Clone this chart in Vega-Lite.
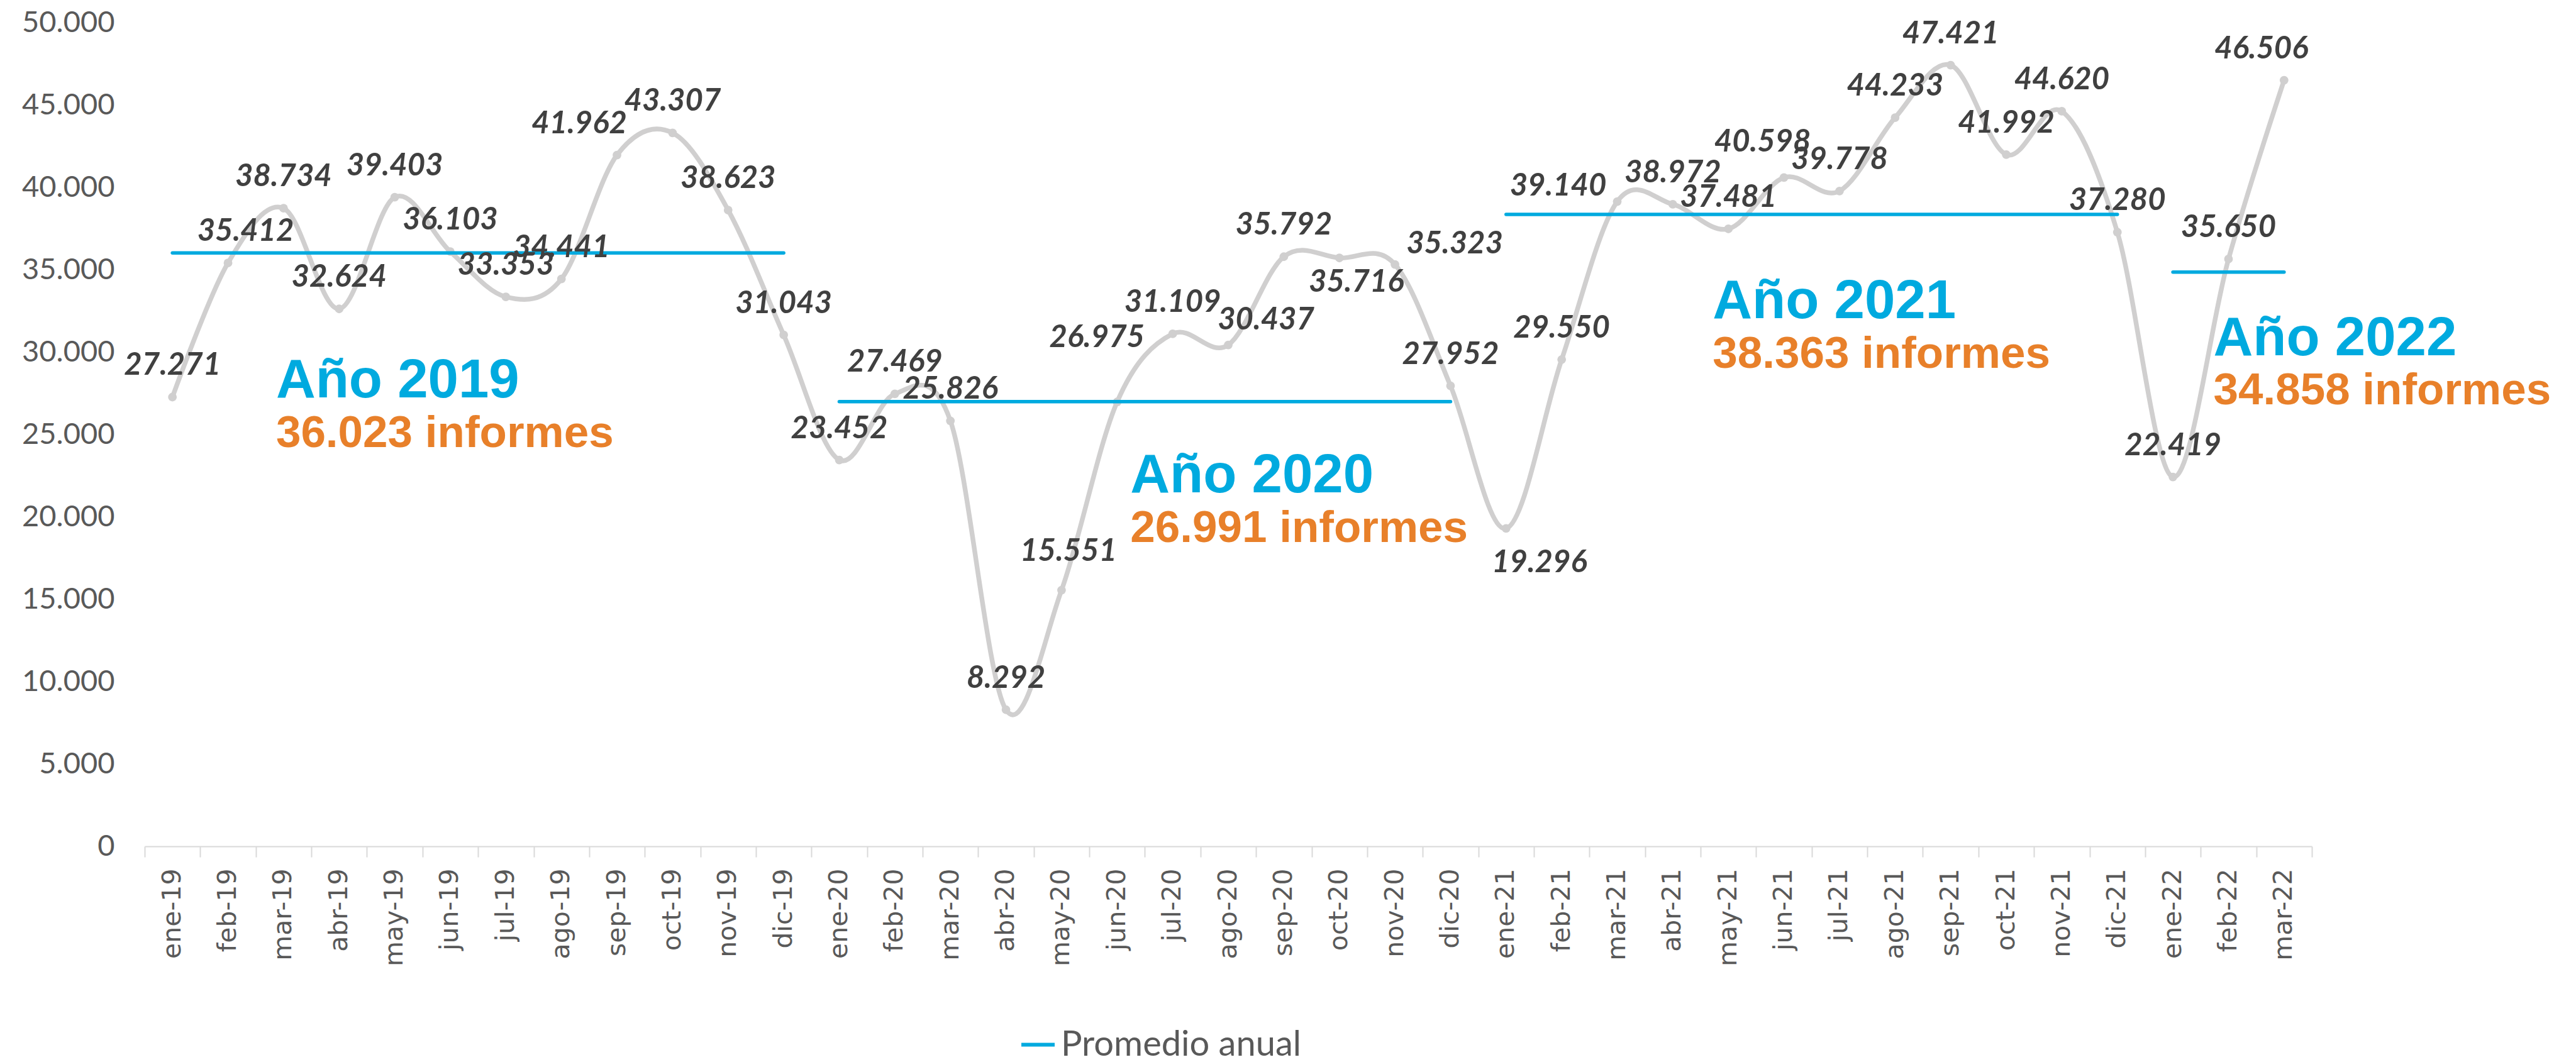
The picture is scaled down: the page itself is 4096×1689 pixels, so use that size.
{
  "$schema": "https://vega.github.io/schema/vega-lite/v6.json",
  "autosize": {"type": "none"},
  "padding": {"left": 230, "top": 36, "right": 420, "bottom": 343},
  "width": 3446,
  "height": 1310,
  "background": "white",
  "config": {
    "view": {"stroke": null},
    "locale": {"number": {"decimal": ",", "thousands": ".", "grouping": [3], "currency": ["", " €"]}}
  },
  "datasets": {
    "monthly": [
      {"m": "ene-19", "v": 27271, "avg": 36023, "yr": "2019"},
      {"m": "feb-19", "v": 35412, "avg": 36023, "yr": "2019"},
      {"m": "mar-19", "v": 38734, "avg": 36023, "yr": "2019"},
      {"m": "abr-19", "v": 32624, "avg": 36023, "yr": "2019"},
      {"m": "may-19", "v": 39403, "avg": 36023, "yr": "2019"},
      {"m": "jun-19", "v": 36103, "avg": 36023, "yr": "2019"},
      {"m": "jul-19", "v": 33353, "avg": 36023, "yr": "2019"},
      {"m": "ago-19", "v": 34441, "avg": 36023, "yr": "2019"},
      {"m": "sep-19", "v": 41962, "avg": 36023, "yr": "2019"},
      {"m": "oct-19", "v": 43307, "avg": 36023, "yr": "2019"},
      {"m": "nov-19", "v": 38623, "avg": 36023, "yr": "2019"},
      {"m": "dic-19", "v": 31043, "avg": 36023, "yr": "2019"},
      {"m": "ene-20", "v": 23452, "avg": 26991, "yr": "2020"},
      {"m": "feb-20", "v": 27469, "avg": 26991, "yr": "2020"},
      {"m": "mar-20", "v": 25826, "avg": 26991, "yr": "2020"},
      {"m": "abr-20", "v": 8292, "avg": 26991, "yr": "2020"},
      {"m": "may-20", "v": 15551, "avg": 26991, "yr": "2020"},
      {"m": "jun-20", "v": 26975, "avg": 26991, "yr": "2020"},
      {"m": "jul-20", "v": 31109, "avg": 26991, "yr": "2020"},
      {"m": "ago-20", "v": 30437, "avg": 26991, "yr": "2020"},
      {"m": "sep-20", "v": 35792, "avg": 26991, "yr": "2020"},
      {"m": "oct-20", "v": 35716, "avg": 26991, "yr": "2020"},
      {"m": "nov-20", "v": 35323, "avg": 26991, "yr": "2020"},
      {"m": "dic-20", "v": 27952, "avg": 26991, "yr": "2020"},
      {"m": "ene-21", "v": 19296, "avg": 38363, "yr": "2021"},
      {"m": "feb-21", "v": 29550, "avg": 38363, "yr": "2021"},
      {"m": "mar-21", "v": 39140, "avg": 38363, "yr": "2021"},
      {"m": "abr-21", "v": 38972, "avg": 38363, "yr": "2021"},
      {"m": "may-21", "v": 37481, "avg": 38363, "yr": "2021"},
      {"m": "jun-21", "v": 40598, "avg": 38363, "yr": "2021"},
      {"m": "jul-21", "v": 39778, "avg": 38363, "yr": "2021"},
      {"m": "ago-21", "v": 44233, "avg": 38363, "yr": "2021"},
      {"m": "sep-21", "v": 47421, "avg": 38363, "yr": "2021"},
      {"m": "oct-21", "v": 41992, "avg": 38363, "yr": "2021"},
      {"m": "nov-21", "v": 44620, "avg": 38363, "yr": "2021"},
      {"m": "dic-21", "v": 37280, "avg": 38363, "yr": "2021"},
      {"m": "ene-22", "v": 22419, "avg": 34858, "yr": "2022"},
      {"m": "feb-22", "v": 35650, "avg": 34858, "yr": "2022"},
      {"m": "mar-22", "v": 46506, "avg": 34858, "yr": "2022"}
    ],
    "notes": [
      {"yr": "2019", "m": "mar-19", "avg": 36023, "title": "Año 2019", "sub": "36.023 informes"},
      {"yr": "2020", "m": "jun-20", "avg": 26991, "title": "Año 2020", "sub": "26.991 informes"},
      {"yr": "2021", "m": "may-21", "avg": 38363, "title": "Año 2021", "sub": "38.363 informes"},
      {"yr": "2022", "m": "feb-22", "avg": 34858, "title": "Año 2022", "sub": "34.858 informes"}
    ]
  },
  "encoding": {
    "x": {
      "field": "m", "type": "ordinal", "title": null,
      "scale": {
        "domain": ["ene-19","feb-19","mar-19","abr-19","may-19","jun-19","jul-19","ago-19","sep-19","oct-19","nov-19","dic-19",
                   "ene-20","feb-20","mar-20","abr-20","may-20","jun-20","jul-20","ago-20","sep-20","oct-20","nov-20","dic-20",
                   "ene-21","feb-21","mar-21","abr-21","may-21","jun-21","jul-21","ago-21","sep-21","oct-21","nov-21","dic-21",
                   "ene-22","feb-22","mar-22"],
        "paddingInner": 0, "paddingOuter": 0
      },
      "axis": {
        "tickBand": "extent", "tickSize": 17, "tickColor": "#D9D9D9", "tickWidth": 2,
        "domainColor": "#D9D9D9", "domainWidth": 2, "grid": false,
        "labelAngle": -90, "labelAlign": "right", "labelBaseline": "middle",
        "labelFont": "DejaVu Sans", "labelFontSize": 41, "labelColor": "#595959", "labelPadding": 18
      }
    }
  },
  "layer": [
    {
      "data": {"name": "monthly"},
      "mark": {"type": "line", "interpolate": "cardinal", "tension": 0, "color": "#D0CFCF", "strokeWidth": 7.5},
      "encoding": {
        "y": {
          "field": "v", "type": "quantitative", "title": null,
          "scale": {"domain": [0, 50000], "nice": false, "zero": true},
          "axis": {
            "values": [0, 5000, 10000, 15000, 20000, 25000, 30000, 35000, 40000, 45000, 50000],
            "format": ",d", "domain": false, "ticks": false, "tickSize": 0, "grid": false,
            "labelFont": "Lato", "labelFontSize": 47, "labelColor": "#595959", "labelPadding": 48
          }
        }
      }
    },
    {
      "data": {"name": "monthly"},
      "mark": {"type": "circle", "size": 190, "color": "#D0CFCF", "opacity": 1},
      "encoding": {"y": {"field": "v", "type": "quantitative", "title": null}}
    },
    {
      "data": {"name": "monthly"},
      "mark": {"type": "line", "strokeWidth": 5.5, "strokeCap": "round"},
      "encoding": {
        "y": {"field": "avg", "type": "quantitative", "title": null},
        "detail": {"field": "yr", "type": "nominal"},
        "color": {
          "datum": "Promedio anual",
          "scale": {"range": ["#00AADF"]},
          "legend": {
            "orient": "none", "legendX": 1391, "legendY": 1596, "title": null, "padding": 0,
            "symbolType": "stroke", "symbolSize": 2809, "symbolStrokeWidth": 6,
            "labelFont": "Lato", "labelFontSize": 56, "labelColor": "#595959", "labelOffset": 7, "labelLimit": 2000
          }
        }
      }
    },
    {
      "data": {"name": "monthly"},
      "transform": [{"filter": "indexof(['feb-19','sep-19','may-20','jun-20','ago-20','oct-20','nov-20','ene-21','mar-21','jun-21','mar-22'], datum.m) < 0"}],
      "mark": {"type": "text", "font": "Lato", "fontStyle": "italic", "fontWeight": "bold", "fontSize": 49, "color": "#404040", "align": "center", "baseline": "alphabetic", "dy": -35},
      "encoding": {"y": {"field": "v", "type": "quantitative", "title": null}, "text": {"field": "v", "type": "quantitative", "format": ",d"}}
    },
    {
      "data": {"name": "monthly"},
      "transform": [{"filter": "datum.m == 'feb-19'"}],
      "mark": {"type": "text", "font": "Lato", "fontStyle": "italic", "fontWeight": "bold", "fontSize": 49, "color": "#404040", "align": "center", "baseline": "alphabetic", "dx": 28, "dy": -35},
      "encoding": {"y": {"field": "v", "type": "quantitative", "title": null}, "text": {"field": "v", "type": "quantitative", "format": ",d"}}
    },
    {
      "data": {"name": "monthly"},
      "transform": [{"filter": "datum.m == 'sep-19'"}],
      "mark": {"type": "text", "font": "Lato", "fontStyle": "italic", "fontWeight": "bold", "fontSize": 49, "color": "#404040", "align": "center", "baseline": "alphabetic", "dx": -60, "dy": -35},
      "encoding": {"y": {"field": "v", "type": "quantitative", "title": null}, "text": {"field": "v", "type": "quantitative", "format": ",d"}}
    },
    {
      "data": {"name": "monthly"},
      "transform": [{"filter": "datum.m == 'may-20'"}],
      "mark": {"type": "text", "font": "Lato", "fontStyle": "italic", "fontWeight": "bold", "fontSize": 49, "color": "#404040", "align": "center", "baseline": "alphabetic", "dx": 11, "dy": -47},
      "encoding": {"y": {"field": "v", "type": "quantitative", "title": null}, "text": {"field": "v", "type": "quantitative", "format": ",d"}}
    },
    {
      "data": {"name": "monthly"},
      "transform": [{"filter": "datum.m == 'jun-20'"}],
      "mark": {"type": "text", "font": "Lato", "fontStyle": "italic", "fontWeight": "bold", "fontSize": 49, "color": "#404040", "align": "center", "baseline": "alphabetic", "dx": -32, "dy": -87},
      "encoding": {"y": {"field": "v", "type": "quantitative", "title": null}, "text": {"field": "v", "type": "quantitative", "format": ",d"}}
    },
    {
      "data": {"name": "monthly"},
      "transform": [{"filter": "datum.m == 'ago-20'"}],
      "mark": {"type": "text", "font": "Lato", "fontStyle": "italic", "fontWeight": "bold", "fontSize": 49, "color": "#404040", "align": "center", "baseline": "alphabetic", "dx": 60, "dy": -25},
      "encoding": {"y": {"field": "v", "type": "quantitative", "title": null}, "text": {"field": "v", "type": "quantitative", "format": ",d"}}
    },
    {
      "data": {"name": "monthly"},
      "transform": [{"filter": "datum.m == 'oct-20'"}],
      "mark": {"type": "text", "font": "Lato", "fontStyle": "italic", "fontWeight": "bold", "fontSize": 49, "color": "#404040", "align": "center", "baseline": "alphabetic", "dx": 27, "dy": 54},
      "encoding": {"y": {"field": "v", "type": "quantitative", "title": null}, "text": {"field": "v", "type": "quantitative", "format": ",d"}}
    },
    {
      "data": {"name": "monthly"},
      "transform": [{"filter": "datum.m == 'nov-20'"}],
      "mark": {"type": "text", "font": "Lato", "fontStyle": "italic", "fontWeight": "bold", "fontSize": 49, "color": "#404040", "align": "center", "baseline": "alphabetic", "dx": 95, "dy": -18},
      "encoding": {"y": {"field": "v", "type": "quantitative", "title": null}, "text": {"field": "v", "type": "quantitative", "format": ",d"}}
    },
    {
      "data": {"name": "monthly"},
      "transform": [{"filter": "datum.m == 'ene-21'"}],
      "mark": {"type": "text", "font": "Lato", "fontStyle": "italic", "fontWeight": "bold", "fontSize": 49, "color": "#404040", "align": "center", "baseline": "alphabetic", "dx": 53, "dy": 70},
      "encoding": {"y": {"field": "v", "type": "quantitative", "title": null}, "text": {"field": "v", "type": "quantitative", "format": ",d"}}
    },
    {
      "data": {"name": "monthly"},
      "transform": [{"filter": "datum.m == 'mar-21'"}],
      "mark": {"type": "text", "font": "Lato", "fontStyle": "italic", "fontWeight": "bold", "fontSize": 49, "color": "#404040", "align": "center", "baseline": "alphabetic", "dx": -94, "dy": -10},
      "encoding": {"y": {"field": "v", "type": "quantitative", "title": null}, "text": {"field": "v", "type": "quantitative", "format": ",d"}}
    },
    {
      "data": {"name": "monthly"},
      "transform": [{"filter": "datum.m == 'jun-21'"}],
      "mark": {"type": "text", "font": "Lato", "fontStyle": "italic", "fontWeight": "bold", "fontSize": 49, "color": "#404040", "align": "center", "baseline": "alphabetic", "dx": -34, "dy": -41},
      "encoding": {"y": {"field": "v", "type": "quantitative", "title": null}, "text": {"field": "v", "type": "quantitative", "format": ",d"}}
    },
    {
      "data": {"name": "monthly"},
      "transform": [{"filter": "datum.m == 'mar-22'"}],
      "mark": {"type": "text", "font": "Lato", "fontStyle": "italic", "fontWeight": "bold", "fontSize": 49, "color": "#404040", "align": "center", "baseline": "alphabetic", "dx": -36, "dy": -35},
      "encoding": {"y": {"field": "v", "type": "quantitative", "title": null}, "text": {"field": "v", "type": "quantitative", "format": ",d"}}
    },
    {
      "data": {"name": "notes"},
      "transform": [{"filter": "datum.yr == '2019'"}],
      "mark": {"type": "text", "font": "Liberation Sans", "fontWeight": "bold", "fontSize": 87, "color": "#00AADF", "align": "left", "baseline": "alphabetic", "dx": -12, "dy": 230},
      "encoding": {"y": {"field": "avg", "type": "quantitative", "title": null}, "text": {"field": "title"}}
    },
    {
      "data": {"name": "notes"},
      "transform": [{"filter": "datum.yr == '2019'"}],
      "mark": {"type": "text", "font": "Liberation Sans", "fontWeight": "bold", "fontSize": 71, "color": "#E8802A", "align": "left", "baseline": "alphabetic", "dx": -12, "dy": 309},
      "encoding": {"y": {"field": "avg", "type": "quantitative", "title": null}, "text": {"field": "sub"}}
    },
    {
      "data": {"name": "notes"},
      "transform": [{"filter": "datum.yr == '2020'"}],
      "mark": {"type": "text", "font": "Liberation Sans", "fontWeight": "bold", "fontSize": 87, "color": "#00AADF", "align": "left", "baseline": "alphabetic", "dx": 21, "dy": 144},
      "encoding": {"y": {"field": "avg", "type": "quantitative", "title": null}, "text": {"field": "title"}}
    },
    {
      "data": {"name": "notes"},
      "transform": [{"filter": "datum.yr == '2020'"}],
      "mark": {"type": "text", "font": "Liberation Sans", "fontWeight": "bold", "fontSize": 71, "color": "#E8802A", "align": "left", "baseline": "alphabetic", "dx": 21, "dy": 223},
      "encoding": {"y": {"field": "avg", "type": "quantitative", "title": null}, "text": {"field": "sub"}}
    },
    {
      "data": {"name": "notes"},
      "transform": [{"filter": "datum.yr == '2021'"}],
      "mark": {"type": "text", "font": "Liberation Sans", "fontWeight": "bold", "fontSize": 87, "color": "#00AADF", "align": "left", "baseline": "alphabetic", "dx": -25, "dy": 165},
      "encoding": {"y": {"field": "avg", "type": "quantitative", "title": null}, "text": {"field": "title"}}
    },
    {
      "data": {"name": "notes"},
      "transform": [{"filter": "datum.yr == '2021'"}],
      "mark": {"type": "text", "font": "Liberation Sans", "fontWeight": "bold", "fontSize": 71, "color": "#E8802A", "align": "left", "baseline": "alphabetic", "dx": -25, "dy": 244},
      "encoding": {"y": {"field": "avg", "type": "quantitative", "title": null}, "text": {"field": "sub"}}
    },
    {
      "data": {"name": "notes"},
      "transform": [{"filter": "datum.yr == '2022'"}],
      "mark": {"type": "text", "font": "Liberation Sans", "fontWeight": "bold", "fontSize": 87, "color": "#00AADF", "align": "left", "baseline": "alphabetic", "dx": -24, "dy": 132},
      "encoding": {"y": {"field": "avg", "type": "quantitative", "title": null}, "text": {"field": "title"}}
    },
    {
      "data": {"name": "notes"},
      "transform": [{"filter": "datum.yr == '2022'"}],
      "mark": {"type": "text", "font": "Liberation Sans", "fontWeight": "bold", "fontSize": 71, "color": "#E8802A", "align": "left", "baseline": "alphabetic", "dx": -24, "dy": 210},
      "encoding": {"y": {"field": "avg", "type": "quantitative", "title": null}, "text": {"field": "sub"}}
    }
  ]
}
